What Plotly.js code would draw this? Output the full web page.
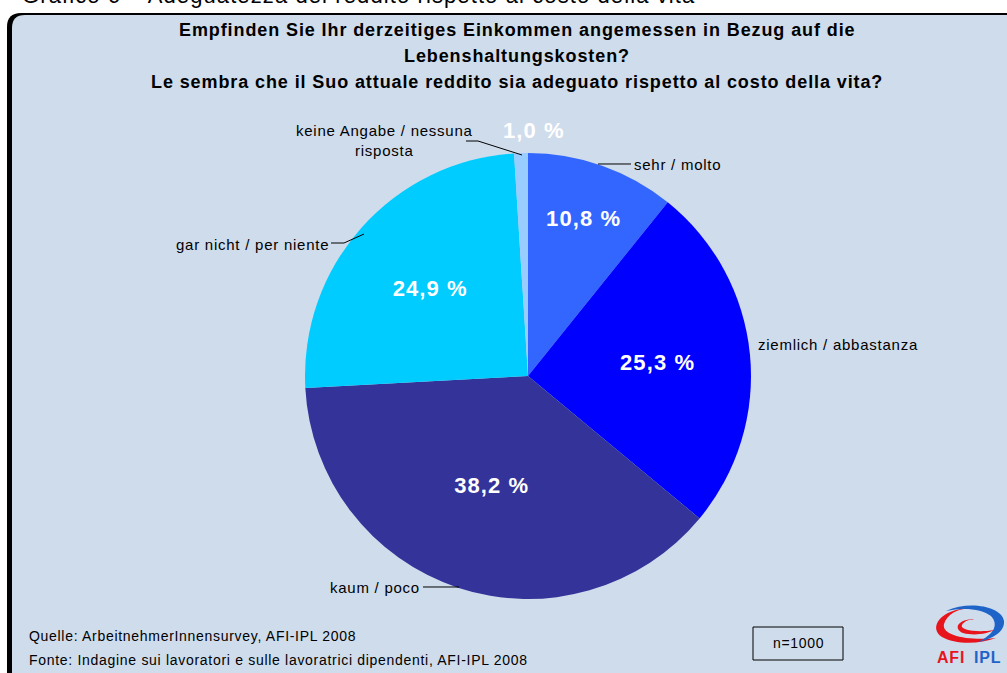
<!DOCTYPE html>
<html>
<head>
<meta charset="utf-8">
<script src="https://cdn.plot.ly/plotly-3.0.1.min.js"></script>
<style>
html,body{margin:0;padding:0;background:#fff;}
#chart{width:1007px;height:673px;}
text{letter-spacing:0.05em;}
</style>
</head>
<body>
<div id="chart"></div>
<script>
const categories = ["sehr / molto", "ziemlich / abbastanza", "kaum / poco", "gar nicht / per niente", "keine Angabe / nessuna<br>risposta"];
const values = [10.8, 25.3, 38.2, 24.9, 1.0];
const colors = ["#3366ff", "#0000ff", "#333399", "#00ccff", "#99ccff"];
const percentLabels = values.map(v => v.toFixed(1).replace('.', ',') + ' %');
const titleLines = [
  "Empfinden Sie Ihr derzeitiges Einkommen angemessen in Bezug auf die",
  "Lebenshaltungskosten?",
  "Le sembra che il Suo attuale reddito sia adeguato rispetto al costo della vita?"
];
const headerText = "Grafico 6 – Adeguatezza del reddito rispetto al costo della vita";
const sourceLines = [
  "Quelle: ArbeitnehmerInnensurvey, AFI-IPL 2008",
  "Fonte: Indagine sui lavoratori e sulle lavoratrici dipendenti, AFI-IPL 2008"
];
const sampleText = "n=1000";

const W = 1007, H = 673;
const px = x => x / W;
const py = y => 1 - y / H;
const FONT = "Arial, 'Liberation Sans', sans-serif";

function pathPx(d) {
  return d.replace(/(-?\d+\.?\d*)\s+(-?\d+\.?\d*)/g, (m, a, b) => px(+a).toFixed(5) + ',' + py(+b).toFixed(5));
}

// the smallest slice gets its label outside, placed as in the reference
const textPositions = values.map(v => v < 3 ? 'none' : 'inside');

const trace = {
  type: 'pie',
  labels: categories,
  values: values,
  text: percentLabels,
  textinfo: 'text',
  sort: false,
  direction: 'clockwise',
  rotation: 0,
  hole: 0,
  marker: {colors: colors, line: {width: 0}},
  textposition: textPositions,
  insidetextorientation: 'horizontal',
  textfont: {family: FONT, size: 22, color: '#ffffff', weight: 'bold'},
  showlegend: false,
  hoverinfo: 'label+text',
  domain: {x: [px(305), px(751)], y: [py(599), py(153)]}
};

const labelFont = {family: FONT, size: 15, color: '#000'};
const footFont = {family: FONT, size: 14, color: '#000'};
const titleFont = {family: FONT, size: 18, color: '#000'};
const annotations = [
  {xref: 'paper', yref: 'paper', x: px(20), y: py(10), xanchor: 'left', yanchor: 'bottom', text: headerText, showarrow: false, font: {family: FONT, size: 22, color: '#000'}},
  {xref: 'paper', yref: 'paper', x: px(517), y: py(30), xanchor: 'center', yanchor: 'middle', text: '<b>' + titleLines[0] + '</b>', showarrow: false, font: titleFont},
  {xref: 'paper', yref: 'paper', x: px(517), y: py(56), xanchor: 'center', yanchor: 'middle', text: '<b>' + titleLines[1] + '</b>', showarrow: false, font: titleFont},
  {xref: 'paper', yref: 'paper', x: px(517), y: py(82), xanchor: 'center', yanchor: 'middle', text: '<b>' + titleLines[2] + '</b>', showarrow: false, font: titleFont},
  // percent label of the smallest slice
  {xref: 'paper', yref: 'paper', x: px(534), y: py(131), xanchor: 'center', yanchor: 'middle', text: '<b>' + percentLabels[4] + '</b>', showarrow: false, font: {family: FONT, size: 22, color: '#ffffff'}},
  // category labels
  {xref: 'paper', yref: 'paper', x: px(632), y: py(164), xanchor: 'left', yanchor: 'middle', text: categories[0], showarrow: false, font: labelFont},
  {xref: 'paper', yref: 'paper', x: px(756), y: py(345), xanchor: 'left', yanchor: 'middle', text: categories[1], showarrow: false, font: labelFont},
  {xref: 'paper', yref: 'paper', x: px(422), y: py(587), xanchor: 'right', yanchor: 'middle', text: categories[2], showarrow: false, font: labelFont},
  {xref: 'paper', yref: 'paper', x: px(331), y: py(244), xanchor: 'right', yanchor: 'middle', text: categories[3], showarrow: false, font: labelFont},
  {xref: 'paper', yref: 'paper', x: px(384), y: py(140), xanchor: 'center', yanchor: 'middle', text: categories[4], showarrow: false, font: labelFont},
  // source
  {xref: 'paper', yref: 'paper', x: px(27), y: py(636), xanchor: 'left', yanchor: 'middle', text: sourceLines[0], showarrow: false, font: footFont},
  {xref: 'paper', yref: 'paper', x: px(27), y: py(660), xanchor: 'left', yanchor: 'middle', text: sourceLines[1], showarrow: false, font: footFont},
  {xref: 'paper', yref: 'paper', x: px(798), y: py(643), xanchor: 'center', yanchor: 'middle', text: sampleText, showarrow: false, font: footFont},
  // logo text
  {xref: 'paper', yref: 'paper', x: px(951), y: py(657), xanchor: 'center', yanchor: 'middle', text: '<b>AFI</b>', showarrow: false, font: {family: FONT, size: 16, color: '#e8141c'}},
  {xref: 'paper', yref: 'paper', x: px(987), y: py(657), xanchor: 'center', yanchor: 'middle', text: '<b>IPL</b>', showarrow: false, font: {family: FONT, size: 16, color: '#1e64c8'}}
];

const leader = d => ({type: 'path', xref: 'paper', yref: 'paper', layer: 'above', line: {width: 1, color: '#000'}, fillcolor: 'rgba(0,0,0,0)', path: pathPx(d)});

const shapes = [
  {type: 'path', xref: 'paper', yref: 'paper', layer: 'below', line: {width: 0}, fillcolor: '#000000',
   path: pathPx('M 7 700 L 7 27 Q 7 13 21 13 L 1030 13 L 1030 700 Z')},
  {type: 'path', xref: 'paper', yref: 'paper', layer: 'below', line: {width: 0}, fillcolor: '#cfdcec',
   path: pathPx('M 12 700 L 12 28 Q 12 15 25 15 L 1030 15 L 1030 700 Z')},
  {type: 'rect', xref: 'paper', yref: 'paper', layer: 'below', x0: px(753), x1: px(843), y0: py(627), y1: py(660), line: {width: 1, color: '#000'}, fillcolor: 'rgba(0,0,0,0)'},
  // leader lines
  leader('M 598 164 L 631 164'),
  leader('M 423 587 L 459 587'),
  leader('M 331 243 L 344 243 L 364 234'),
  leader('M 466 141 L 478 141 L 522 155'),
  // logo arcs
  {type: 'path', xref: 'paper', yref: 'paper', layer: 'above', line: {width: 0}, fillcolor: '#e8141c',
   path: pathPx('M 970 608 C 940 609 928 628 942 637 C 954 644 978 645 996 638 C 970 641 941 636 944 624 C 947 614 958 609 970 608 Z')},
  {type: 'path', xref: 'paper', yref: 'paper', layer: 'above', line: {width: 0}, fillcolor: '#1e64c8',
   path: pathPx('M 946 611 C 970 600 1002 607 1004 621 C 1005 632 992 639 978 642 C 994 634 999 625 991 616 C 982 609 964 607 946 611 Z')},
  {type: 'path', xref: 'paper', yref: 'paper', layer: 'above', line: {width: 0}, fillcolor: '#e8141c',
   path: pathPx('M 977 619 C 959 618 952 628 963 633 C 974 636 987 634 994 630 C 978 633 959 630 962 625 C 964 621 970 619 977 619 Z')}
];

const layout = {
  width: W, height: H,
  margin: {l: 0, r: 0, t: 0, b: 0},
  paper_bgcolor: '#ffffff',
  plot_bgcolor: 'rgba(0,0,0,0)',
  font: {family: FONT},
  showlegend: false,
  annotations: annotations,
  shapes: shapes
};

Plotly.newPlot('chart', [trace], layout, {displayModeBar: false, staticPlot: true});
</script>
</body>
</html>
